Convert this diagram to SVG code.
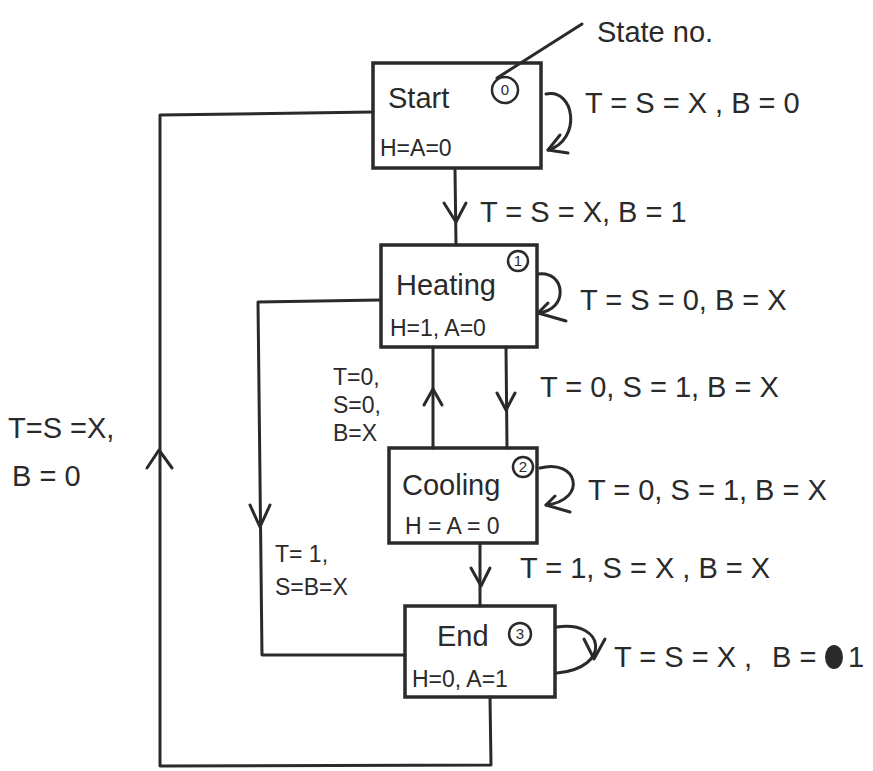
<svg xmlns="http://www.w3.org/2000/svg" width="873" height="771" viewBox="0 0 873 771">
<style>
.ln{fill:none;stroke:#2a2a2a;stroke-width:3;stroke-linecap:round;stroke-linejoin:round}
.box{fill:none;stroke:#2a2a2a;stroke-width:3.5}
.t{font-family:"Liberation Sans",Arial,sans-serif;fill:#2a2a2a;font-size:29px}
.nm{font-family:"Liberation Sans",Arial,sans-serif;fill:#2a2a2a;font-size:29px}
.s{font-family:"Liberation Sans",Arial,sans-serif;fill:#2a2a2a;font-size:23px}
.n{font-family:"Liberation Sans",Arial,sans-serif;fill:#2a2a2a;font-size:15px;text-anchor:middle}
.c{fill:none;stroke:#2a2a2a;stroke-width:2.5}
</style>
<rect width="873" height="771" fill="#fff"/>
<g id="connectors">
  <path class="ln" d="M497 78 L582 24"/>
  <path class="ln" d="M546 94 C575 88 582 140 548 150"/>
  <path class="ln" d="M560 135 L548 150 L568 153"/>
  <path class="ln" d="M455 170 L456 245"/>
  <path class="ln" d="M444 203 L456 222 L466 203"/>
  <path class="ln" d="M538 274 C565 270 570 310 538 313"/>
  <path class="ln" d="M548 303 L538 313 L566 321"/>
  <path class="ln" d="M433 347 L433 448"/>
  <path class="ln" d="M424 405 L433 389 L442 405"/>
  <path class="ln" d="M506 347 L507 448"/>
  <path class="ln" d="M497 393 L506 410 L515 393"/>
  <path class="ln" d="M540 468 C578 458 588 500 546 505"/>
  <path class="ln" d="M555 496 L546 505 L570 512"/>
  <path class="ln" d="M480 543 L480 606"/>
  <path class="ln" d="M471 568 L481 586 L490 568"/>
  <path class="ln" d="M557 627 C605 620 612 668 557 673"/>
  <path class="ln" d="M584 639 L594 659 L605 639"/>
  <path class="ln" d="M380 300 L258 302 L262 655 L405 655"/>
  <path class="ln" d="M250 505 L260 527 L270 505"/>
  <path class="ln" d="M490 697 L491 765 L160 766 L160 115 L373 112"/>
  <path class="ln" d="M147 468 L159 450 L172 468"/>
</g>
<g id="start">
  <rect class="box" x="373" y="63" width="168" height="105"/>
  <circle class="c" cx="505" cy="90" r="13"/>
  <text class="n" x="505" y="95">0</text>
  <text class="nm" x="388" y="108">Start</text>
  <text class="s" x="380" y="156">H=A=0</text>
</g>
<g id="heating">
  <rect class="box" x="381" y="245" width="156" height="102"/>
  <circle class="c" cx="518" cy="261" r="10"/>
  <text class="n" x="518" y="266">1</text>
  <text class="nm" x="396" y="295">Heating</text>
  <text class="s" x="390" y="336">H=1, A=0</text>
</g>
<g id="cooling">
  <rect class="box" x="389" y="448" width="148" height="95"/>
  <circle class="c" cx="523" cy="467" r="10"/>
  <text class="n" x="523" y="472">2</text>
  <text class="nm" x="402" y="495">Cooling</text>
  <text class="s" x="405" y="534">H = A = 0</text>
</g>
<g id="end">
  <rect class="box" x="405" y="606" width="150" height="91"/>
  <circle class="c" cx="520" cy="634" r="11"/>
  <text class="n" x="520" y="639">3</text>
  <text class="nm" x="437" y="646">End</text>
  <text class="s" x="412" y="687">H=0, A=1</text>
</g>
<g id="labels">
  <text class="t" x="597" y="42">State no.</text>
  <text class="t" x="585" y="113">T = S = X , B = 0</text>
  <text class="t" x="480" y="222">T = S = X, B = 1</text>
  <text class="t" x="580" y="310">T = S = 0, B = X</text>
  <text class="s" x="333" y="385">T=0,</text>
  <text class="s" x="333" y="413">S=0,</text>
  <text class="s" x="333" y="441">B=X</text>
  <text class="t" x="540" y="397">T = 0, S = 1, B = X</text>
  <text class="t" x="588" y="500">T = 0, S = 1, B = X</text>
  <text class="t" x="520" y="578">T = 1, S = X , B = X</text>
  <text class="s" x="275" y="562">T= 1,</text>
  <text class="s" x="275" y="595">S=B=X</text>
  <text class="t" x="614" y="667">T = S = X ,</text>
  <text class="t" x="772" y="667">B =</text>
  <ellipse cx="834" cy="657" rx="9" ry="12" fill="#2a2a2a"/>
  <text class="t" x="848" y="667">1</text>
  <text class="t" x="8" y="438">T=S =X,</text>
  <text class="t" x="12" y="486">B = 0</text>
</g>
</svg>
